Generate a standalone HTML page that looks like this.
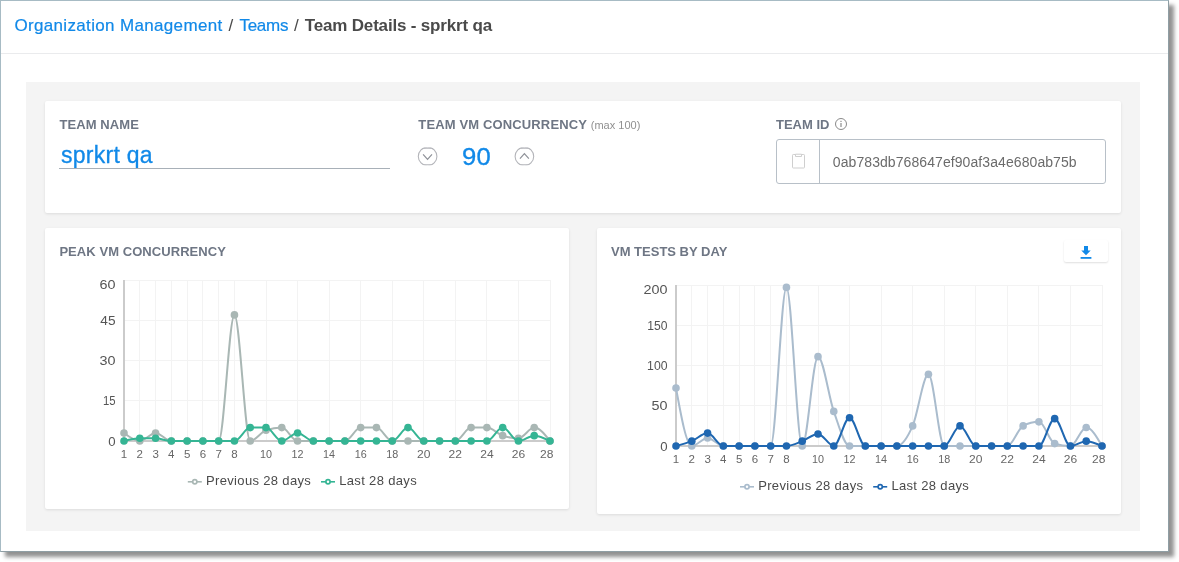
<!DOCTYPE html>
<html lang="en">
<head>
<meta charset="utf-8">
<title>Team Details - sprkrt qa</title>
<style>
*{box-sizing:border-box;margin:0;padding:0}
html,body{width:1179px;height:562px;background:#fff;overflow:hidden}
body{font-family:"Liberation Sans",Arial,sans-serif;color:#444;position:relative}
.frame{position:absolute;left:0;top:0;width:1169px;height:552px;background:#fff;border:1px solid #a7bbc4;border-right-color:#8f9ea4;border-bottom-color:#8f9ea4;box-shadow:5px 5px 4px 0 rgba(0,0,0,.43)}
.crumbs{position:absolute;left:0;top:15px;font-size:17px;line-height:22px;white-space:nowrap;color:#4a4a4a}
.crumbs>*{position:absolute;top:0}
.crumbs a{color:#1189e8;text-decoration:none;-webkit-text-stroke:.2px #1189e8}
.crumbs b{font-weight:bold;color:#4a4a4a}
.hr{position:absolute;left:1px;top:53px;width:1167px;height:1px;background:#eaebed}
.panel{position:absolute;left:26px;top:82px;width:1114px;height:449px;background:#f4f4f4}
.card{position:absolute;background:#fff;border-radius:2px;box-shadow:0 1px 3px rgba(0,0,0,.10)}
#c0{left:45px;top:101px;width:1076px;height:112px}
#c1{left:45px;top:228px;width:524px;height:281px}
#c2{left:597px;top:228px;width:524px;height:286px}
.lbl{position:absolute;font-size:13px;font-weight:bold;color:#6e7684;white-space:nowrap;line-height:16px}
.lbl small{font-weight:normal;font-size:11px;color:#909090}
.name{position:absolute;left:61px;top:141px;font-size:23px;line-height:28px;color:#1189e8;white-space:nowrap;letter-spacing:.27px;-webkit-text-stroke:.3px #1189e8}
.uline{position:absolute;left:59px;top:168px;width:331px;height:1px;background:#a8b0b8}
.num{position:absolute;left:461.6px;top:143px;font-size:23px;line-height:28px;color:#1189e8;letter-spacing:.2px;-webkit-text-stroke:.3px #1189e8;transform:scaleX(1.115);transform-origin:0 0}
.idbox{position:absolute;left:776px;top:139px;width:330px;height:45px;border:1px solid #b8c0c8;border-radius:3px;background:#fff}
.idbox .div{position:absolute;left:42px;top:0;width:1px;height:43px;background:#b8c0c8}
.idbox .txt{position:absolute;left:55.8px;top:13px;font-size:14px;line-height:18px;color:#6b6b6b;white-space:nowrap;letter-spacing:.08px}
svg.abs{position:absolute;overflow:visible}
svg.chart{position:absolute;overflow:visible;font-family:"Liberation Sans",Arial,sans-serif}
svg.chart .yt{font-size:13.2px;fill:#555}
svg.chart .xt{font-size:11.5px;fill:#666}
svg.chart .lg{font-size:13px;fill:#4a4a4a;letter-spacing:.34px}
.dl{position:absolute;left:1064px;top:240px;width:44px;height:22px;background:#fff;border-radius:2px;box-shadow:0 1px 2px rgba(0,0,0,.13)}
</style>
</head>
<body>
<div class="frame"></div>
<div class="crumbs"><a style="left:14.4px;letter-spacing:.34px">Organization Management</a><span style="left:228.4px">/</span><a style="left:239.4px;letter-spacing:-.24px">Teams</a><span style="left:294px">/</span><b style="left:304.8px;letter-spacing:-.18px">Team Details - sprkrt qa</b></div>
<div class="hr"></div>
<div class="panel"></div>

<div class="card" id="c0"></div>
<div class="lbl" style="left:59.5px;top:117px;letter-spacing:.08px">TEAM NAME</div>
<div class="name">sprkrt qa</div>
<div class="uline"></div>

<div class="lbl" style="left:418.3px;top:117px;letter-spacing:.14px">TEAM VM CONCURRENCY</div><div class="lbl" style="left:590.8px;top:117px"><small>(max 100)</small></div>
<svg class="abs" style="left:417px;top:146px" width="21" height="21" viewBox="0 0 21 21"><defs><clipPath id="cp"><rect x="0" y="1.6" width="21" height="17.6"/></clipPath></defs><g clip-path="url(#cp)"><circle cx="10.6" cy="10.4" r="9.3" fill="#fff" stroke="#b4b5ba" stroke-width="1.1"/><path d="M6.6 2.1H14.6M6.6 18.7H14.6" stroke="#b4b5ba" stroke-width="1.1"/></g><path d="M6.1 8.4 L10.55 13.3 L15 8.4" fill="none" stroke="#8e9198" stroke-width="1.2"/></svg>
<div class="num">90</div>
<svg class="abs" style="left:514px;top:146px" width="21" height="21" viewBox="0 0 21 21"><g clip-path="url(#cp)"><circle cx="10.4" cy="10.4" r="9.3" fill="#fff" stroke="#b4b5ba" stroke-width="1.1"/><path d="M6.4 2.1H14.4M6.4 18.7H14.4" stroke="#b4b5ba" stroke-width="1.1"/></g><path d="M5.95 12.6 L10.4 7.7 L14.85 12.6" fill="none" stroke="#8e9198" stroke-width="1.2"/></svg>

<div class="lbl" style="left:776px;top:117px">TEAM ID</div>
<svg class="abs" style="left:833.9px;top:116.9px" width="14" height="14" viewBox="0 0 14 14"><circle cx="7" cy="7" r="5.5" fill="none" stroke="#8a8a8a" stroke-width="1"/><rect x="6.5" y="6" width="1" height="4" fill="#777"/><rect x="6.5" y="3.8" width="1" height="1.2" fill="#777"/></svg>
<div class="idbox"><div class="div"></div>
<svg class="abs" style="left:14px;top:11px" width="16" height="20" viewBox="0 0 16 20"><rect x="1.5" y="3.5" width="12" height="13.5" rx=".8" fill="#fff" stroke="#cfcfcf" stroke-width="1"/><path d="M4.5 5.5v-2.3h6v2.3z" fill="#fff" stroke="#cfcfcf" stroke-width="1"/></svg>
<div class="txt">0ab783db768647ef90af3a4e680ab75b</div></div>

<div class="card" id="c1"></div>
<div class="lbl" style="left:59.4px;top:244px;letter-spacing:.06px">PEAK VM CONCURRENCY</div>
<svg class="chart" width="524" height="280" viewBox="0 0 524 280" style="left:45px;top:228px">
<g stroke="#f3f3f3" stroke-width="1" fill="none"><line x1="79.0" y1="172.5" x2="505.0" y2="172.5"/><line x1="79.0" y1="132.5" x2="505.0" y2="132.5"/><line x1="79.0" y1="92.5" x2="505.0" y2="92.5"/><line x1="79.0" y1="52.5" x2="505.0" y2="52.5"/><line x1="94.5" y1="52.0" x2="94.5" y2="213.0"/><line x1="110.5" y1="52.0" x2="110.5" y2="213.0"/><line x1="126.5" y1="52.0" x2="126.5" y2="213.0"/><line x1="142.5" y1="52.0" x2="142.5" y2="213.0"/><line x1="157.5" y1="52.0" x2="157.5" y2="213.0"/><line x1="173.5" y1="52.0" x2="173.5" y2="213.0"/><line x1="189.5" y1="52.0" x2="189.5" y2="213.0"/><line x1="221.5" y1="52.0" x2="221.5" y2="213.0"/><line x1="252.5" y1="52.0" x2="252.5" y2="213.0"/><line x1="284.5" y1="52.0" x2="284.5" y2="213.0"/><line x1="315.5" y1="52.0" x2="315.5" y2="213.0"/><line x1="347.5" y1="52.0" x2="347.5" y2="213.0"/><line x1="378.5" y1="52.0" x2="378.5" y2="213.0"/><line x1="410.5" y1="52.0" x2="410.5" y2="213.0"/><line x1="441.5" y1="52.0" x2="441.5" y2="213.0"/><line x1="473.5" y1="52.0" x2="473.5" y2="213.0"/><line x1="505.5" y1="52.0" x2="505.5" y2="213.0"/></g>
<line x1="79.0" y1="52.0" x2="79.0" y2="214.0" stroke="#cbcbcb" stroke-width="2"/>
<line x1="79.0" y1="213.0" x2="505.0" y2="213.0" stroke="#cbcbcb" stroke-width="2"/>
<text class="yt" x="70.5" y="217.7" text-anchor="end">0</text>
<text class="yt" x="70.5" y="177.4" text-anchor="end" textLength="12.6" lengthAdjust="spacingAndGlyphs">15</text>
<text class="yt" x="70.5" y="137.2" text-anchor="end" textLength="16.0" lengthAdjust="spacingAndGlyphs">30</text>
<text class="yt" x="70.5" y="97.0" text-anchor="end" textLength="15.2" lengthAdjust="spacingAndGlyphs">45</text>
<text class="yt" x="70.5" y="60.7" text-anchor="end" textLength="16.0" lengthAdjust="spacingAndGlyphs">60</text>
<text class="xt" x="79.0" y="230.0" text-anchor="middle">1</text>
<text class="xt" x="94.8" y="230.0" text-anchor="middle">2</text>
<text class="xt" x="110.6" y="230.0" text-anchor="middle">3</text>
<text class="xt" x="126.3" y="230.0" text-anchor="middle">4</text>
<text class="xt" x="142.1" y="230.0" text-anchor="middle">5</text>
<text class="xt" x="157.9" y="230.0" text-anchor="middle">6</text>
<text class="xt" x="173.7" y="230.0" text-anchor="middle">7</text>
<text class="xt" x="189.4" y="230.0" text-anchor="middle">8</text>
<text class="xt" x="221.0" y="230.0" text-anchor="middle" textLength="12.0" lengthAdjust="spacingAndGlyphs">10</text>
<text class="xt" x="252.6" y="230.0" text-anchor="middle" textLength="12.0" lengthAdjust="spacingAndGlyphs">12</text>
<text class="xt" x="284.1" y="230.0" text-anchor="middle" textLength="12.0" lengthAdjust="spacingAndGlyphs">14</text>
<text class="xt" x="315.7" y="230.0" text-anchor="middle" textLength="12.0" lengthAdjust="spacingAndGlyphs">16</text>
<text class="xt" x="347.2" y="230.0" text-anchor="middle" textLength="12.0" lengthAdjust="spacingAndGlyphs">18</text>
<text class="xt" x="378.8" y="230.0" text-anchor="middle" textLength="13.4" lengthAdjust="spacingAndGlyphs">20</text>
<text class="xt" x="410.3" y="230.0" text-anchor="middle" textLength="13.4" lengthAdjust="spacingAndGlyphs">22</text>
<text class="xt" x="441.9" y="230.0" text-anchor="middle" textLength="13.4" lengthAdjust="spacingAndGlyphs">24</text>
<text class="xt" x="473.4" y="230.0" text-anchor="middle" textLength="13.4" lengthAdjust="spacingAndGlyphs">26</text>
<text class="xt" x="501.7" y="230.0" text-anchor="middle" textLength="13.4" lengthAdjust="spacingAndGlyphs">28</text>
<path d="M79.00,204.95C84.26,208.97,89.52,213.00,94.78,213.00C100.04,213.00,105.30,204.95,110.56,204.95C115.81,204.95,121.07,213.00,126.33,213.00C131.59,213.00,136.85,213.00,142.11,213.00C147.37,213.00,152.63,213.00,157.89,213.00C163.15,213.00,168.41,213.00,173.67,213.00C178.93,213.00,184.19,86.88,189.44,86.88C194.70,86.88,199.96,213.00,205.22,213.00C210.48,213.00,215.74,204.06,221.00,202.27C226.26,200.48,231.52,199.58,236.78,199.58C242.04,199.58,247.30,213.00,252.56,213.00C257.81,213.00,263.07,213.00,268.33,213.00C273.59,213.00,278.85,213.00,284.11,213.00C289.37,213.00,294.63,213.00,299.89,213.00C305.15,213.00,310.41,199.58,315.67,199.58C320.93,199.58,326.19,199.58,331.44,199.58C336.70,199.58,341.96,213.00,347.22,213.00C352.48,213.00,357.74,213.00,363.00,213.00C368.26,213.00,373.52,213.00,378.78,213.00C384.04,213.00,389.30,213.00,394.56,213.00C399.81,213.00,405.07,213.00,410.33,213.00C415.59,213.00,420.85,199.58,426.11,199.58C431.37,199.58,436.63,199.58,441.89,199.58C447.15,199.58,452.41,205.84,457.67,207.63C462.93,209.42,468.19,210.32,473.44,210.32C478.70,210.32,483.96,199.58,489.22,199.58C494.48,199.58,499.74,206.29,505.00,213.00" fill="none" stroke="#a9b7b4" stroke-width="2" stroke-linejoin="round"/>
<g fill="#a9b7b4"><circle cx="79.00" cy="204.95" r="3.8"/><circle cx="94.78" cy="213.00" r="3.8"/><circle cx="110.56" cy="204.95" r="3.8"/><circle cx="126.33" cy="213.00" r="3.8"/><circle cx="142.11" cy="213.00" r="3.8"/><circle cx="157.89" cy="213.00" r="3.8"/><circle cx="173.67" cy="213.00" r="3.8"/><circle cx="189.44" cy="86.88" r="3.8"/><circle cx="205.22" cy="213.00" r="3.8"/><circle cx="221.00" cy="202.27" r="3.8"/><circle cx="236.78" cy="199.58" r="3.8"/><circle cx="252.56" cy="213.00" r="3.8"/><circle cx="268.33" cy="213.00" r="3.8"/><circle cx="284.11" cy="213.00" r="3.8"/><circle cx="299.89" cy="213.00" r="3.8"/><circle cx="315.67" cy="199.58" r="3.8"/><circle cx="331.44" cy="199.58" r="3.8"/><circle cx="347.22" cy="213.00" r="3.8"/><circle cx="363.00" cy="213.00" r="3.8"/><circle cx="378.78" cy="213.00" r="3.8"/><circle cx="394.56" cy="213.00" r="3.8"/><circle cx="410.33" cy="213.00" r="3.8"/><circle cx="426.11" cy="199.58" r="3.8"/><circle cx="441.89" cy="199.58" r="3.8"/><circle cx="457.67" cy="207.63" r="3.8"/><circle cx="473.44" cy="210.32" r="3.8"/><circle cx="489.22" cy="199.58" r="3.8"/><circle cx="505.00" cy="213.00" r="3.8"/></g>
<path d="M79.00,213.00C84.26,211.66,89.52,210.32,94.78,210.32C100.04,210.32,105.30,210.32,110.56,210.32C115.81,210.32,121.07,213.00,126.33,213.00C131.59,213.00,136.85,213.00,142.11,213.00C147.37,213.00,152.63,213.00,157.89,213.00C163.15,213.00,168.41,213.00,173.67,213.00C178.93,213.00,184.19,213.00,189.44,213.00C194.70,213.00,199.96,199.58,205.22,199.58C210.48,199.58,215.74,199.58,221.00,199.58C226.26,199.58,231.52,213.00,236.78,213.00C242.04,213.00,247.30,204.95,252.56,204.95C257.81,204.95,263.07,213.00,268.33,213.00C273.59,213.00,278.85,213.00,284.11,213.00C289.37,213.00,294.63,213.00,299.89,213.00C305.15,213.00,310.41,213.00,315.67,213.00C320.93,213.00,326.19,213.00,331.44,213.00C336.70,213.00,341.96,213.00,347.22,213.00C352.48,213.00,357.74,199.58,363.00,199.58C368.26,199.58,373.52,213.00,378.78,213.00C384.04,213.00,389.30,213.00,394.56,213.00C399.81,213.00,405.07,213.00,410.33,213.00C415.59,213.00,420.85,213.00,426.11,213.00C431.37,213.00,436.63,213.00,441.89,213.00C447.15,213.00,452.41,199.58,457.67,199.58C462.93,199.58,468.19,213.00,473.44,213.00C478.70,213.00,483.96,207.63,489.22,207.63C494.48,207.63,499.74,210.32,505.00,213.00" fill="none" stroke="#35b594" stroke-width="2" stroke-linejoin="round"/>
<g fill="#35b594"><circle cx="79.00" cy="213.00" r="3.8"/><circle cx="94.78" cy="210.32" r="3.8"/><circle cx="110.56" cy="210.32" r="3.8"/><circle cx="126.33" cy="213.00" r="3.8"/><circle cx="142.11" cy="213.00" r="3.8"/><circle cx="157.89" cy="213.00" r="3.8"/><circle cx="173.67" cy="213.00" r="3.8"/><circle cx="189.44" cy="213.00" r="3.8"/><circle cx="205.22" cy="199.58" r="3.8"/><circle cx="221.00" cy="199.58" r="3.8"/><circle cx="236.78" cy="213.00" r="3.8"/><circle cx="252.56" cy="204.95" r="3.8"/><circle cx="268.33" cy="213.00" r="3.8"/><circle cx="284.11" cy="213.00" r="3.8"/><circle cx="299.89" cy="213.00" r="3.8"/><circle cx="315.67" cy="213.00" r="3.8"/><circle cx="331.44" cy="213.00" r="3.8"/><circle cx="347.22" cy="213.00" r="3.8"/><circle cx="363.00" cy="199.58" r="3.8"/><circle cx="378.78" cy="213.00" r="3.8"/><circle cx="394.56" cy="213.00" r="3.8"/><circle cx="410.33" cy="213.00" r="3.8"/><circle cx="426.11" cy="213.00" r="3.8"/><circle cx="441.89" cy="213.00" r="3.8"/><circle cx="457.67" cy="199.58" r="3.8"/><circle cx="473.44" cy="213.00" r="3.8"/><circle cx="489.22" cy="207.63" r="3.8"/><circle cx="505.00" cy="213.00" r="3.8"/></g>
<line x1="142.8" y1="253.8" x2="156.8" y2="253.8" stroke="#a9b7b4" stroke-width="1.6"/>
<circle cx="149.8" cy="253.8" r="2.1" fill="#fff" stroke="#a9b7b4" stroke-width="1.7"/>
<text class="lg" x="161.0" y="257.2">Previous 28 days</text>
<line x1="276.0" y1="253.8" x2="290.0" y2="253.8" stroke="#35b594" stroke-width="1.6"/>
<circle cx="283.0" cy="253.8" r="2.1" fill="#fff" stroke="#35b594" stroke-width="1.7"/>
<text class="lg" x="294.2" y="257.2">Last 28 days</text>
</svg>

<div class="card" id="c2"></div>
<div class="lbl" style="left:611px;top:244px">VM TESTS BY DAY</div>
<div class="dl"><svg class="abs" style="left:15px;top:5px" width="14" height="14" viewBox="0 0 14 14"><path d="M5 1h4v4.6h2.7L7 10.2 2.3 5.6H5z" fill="#1189e8"/><rect x="1.6" y="12" width="10.8" height="1.8" fill="#1189e8"/></svg></div>
<svg class="chart" width="524" height="280" viewBox="0 0 524 280" style="left:597px;top:228px">
<g stroke="#f3f3f3" stroke-width="1" fill="none"><line x1="79.0" y1="177.5" x2="505.0" y2="177.5"/><line x1="79.0" y1="137.5" x2="505.0" y2="137.5"/><line x1="79.0" y1="97.5" x2="505.0" y2="97.5"/><line x1="79.0" y1="57.5" x2="505.0" y2="57.5"/><line x1="94.5" y1="57.0" x2="94.5" y2="218.0"/><line x1="110.5" y1="57.0" x2="110.5" y2="218.0"/><line x1="126.5" y1="57.0" x2="126.5" y2="218.0"/><line x1="142.5" y1="57.0" x2="142.5" y2="218.0"/><line x1="157.5" y1="57.0" x2="157.5" y2="218.0"/><line x1="173.5" y1="57.0" x2="173.5" y2="218.0"/><line x1="189.5" y1="57.0" x2="189.5" y2="218.0"/><line x1="221.5" y1="57.0" x2="221.5" y2="218.0"/><line x1="252.5" y1="57.0" x2="252.5" y2="218.0"/><line x1="284.5" y1="57.0" x2="284.5" y2="218.0"/><line x1="315.5" y1="57.0" x2="315.5" y2="218.0"/><line x1="347.5" y1="57.0" x2="347.5" y2="218.0"/><line x1="378.5" y1="57.0" x2="378.5" y2="218.0"/><line x1="410.5" y1="57.0" x2="410.5" y2="218.0"/><line x1="441.5" y1="57.0" x2="441.5" y2="218.0"/><line x1="473.5" y1="57.0" x2="473.5" y2="218.0"/><line x1="505.5" y1="57.0" x2="505.5" y2="218.0"/></g>
<line x1="79.0" y1="57.0" x2="79.0" y2="219.0" stroke="#cbcbcb" stroke-width="2"/>
<line x1="79.0" y1="218.0" x2="505.0" y2="218.0" stroke="#cbcbcb" stroke-width="2"/>
<text class="yt" x="70.5" y="222.7" text-anchor="end">0</text>
<text class="yt" x="70.5" y="182.4" text-anchor="end" textLength="16.0" lengthAdjust="spacingAndGlyphs">50</text>
<text class="yt" x="70.5" y="142.2" text-anchor="end" textLength="20.4" lengthAdjust="spacingAndGlyphs">100</text>
<text class="yt" x="70.5" y="102.0" text-anchor="end" textLength="20.2" lengthAdjust="spacingAndGlyphs">150</text>
<text class="yt" x="70.5" y="65.7" text-anchor="end" textLength="24.0" lengthAdjust="spacingAndGlyphs">200</text>
<text class="xt" x="79.0" y="235.0" text-anchor="middle">1</text>
<text class="xt" x="94.8" y="235.0" text-anchor="middle">2</text>
<text class="xt" x="110.6" y="235.0" text-anchor="middle">3</text>
<text class="xt" x="126.3" y="235.0" text-anchor="middle">4</text>
<text class="xt" x="142.1" y="235.0" text-anchor="middle">5</text>
<text class="xt" x="157.9" y="235.0" text-anchor="middle">6</text>
<text class="xt" x="173.7" y="235.0" text-anchor="middle">7</text>
<text class="xt" x="189.4" y="235.0" text-anchor="middle">8</text>
<text class="xt" x="221.0" y="235.0" text-anchor="middle" textLength="12.0" lengthAdjust="spacingAndGlyphs">10</text>
<text class="xt" x="252.6" y="235.0" text-anchor="middle" textLength="12.0" lengthAdjust="spacingAndGlyphs">12</text>
<text class="xt" x="284.1" y="235.0" text-anchor="middle" textLength="12.0" lengthAdjust="spacingAndGlyphs">14</text>
<text class="xt" x="315.7" y="235.0" text-anchor="middle" textLength="12.0" lengthAdjust="spacingAndGlyphs">16</text>
<text class="xt" x="347.2" y="235.0" text-anchor="middle" textLength="12.0" lengthAdjust="spacingAndGlyphs">18</text>
<text class="xt" x="378.8" y="235.0" text-anchor="middle" textLength="13.4" lengthAdjust="spacingAndGlyphs">20</text>
<text class="xt" x="410.3" y="235.0" text-anchor="middle" textLength="13.4" lengthAdjust="spacingAndGlyphs">22</text>
<text class="xt" x="441.9" y="235.0" text-anchor="middle" textLength="13.4" lengthAdjust="spacingAndGlyphs">24</text>
<text class="xt" x="473.4" y="235.0" text-anchor="middle" textLength="13.4" lengthAdjust="spacingAndGlyphs">26</text>
<text class="xt" x="501.7" y="235.0" text-anchor="middle" textLength="13.4" lengthAdjust="spacingAndGlyphs">28</text>
<path d="M79.00,160.04C84.26,189.02,89.52,218.00,94.78,218.00C100.04,218.00,105.30,209.95,110.56,209.95C115.81,209.95,121.07,218.00,126.33,218.00C131.59,218.00,136.85,218.00,142.11,218.00C147.37,218.00,152.63,218.00,157.89,218.00C163.15,218.00,168.41,218.00,173.67,218.00C178.93,218.00,184.19,59.41,189.44,59.41C194.70,59.41,199.96,218.00,205.22,218.00C210.48,218.00,215.74,128.64,221.00,128.64C226.26,128.64,231.52,168.49,236.78,183.38C242.04,198.28,247.30,218.00,252.56,218.00C257.81,218.00,263.07,218.00,268.33,218.00C273.59,218.00,278.85,218.00,284.11,218.00C289.37,218.00,294.63,218.00,299.89,218.00C305.15,218.00,310.41,209.82,315.67,197.88C320.93,185.93,326.19,146.36,331.44,146.36C336.70,146.36,341.96,218.00,347.22,218.00C352.48,218.00,357.74,218.00,363.00,218.00C368.26,218.00,373.52,218.00,378.78,218.00C384.04,218.00,389.30,218.00,394.56,218.00C399.81,218.00,405.07,218.00,410.33,218.00C415.59,218.00,420.85,200.56,426.11,197.88C431.37,195.19,436.63,193.85,441.89,193.85C447.15,193.85,452.41,213.98,457.67,215.59C462.93,217.19,468.19,218.00,473.44,218.00C478.70,218.00,483.96,199.49,489.22,199.49C494.48,199.49,499.74,208.74,505.00,218.00" fill="none" stroke="#aabccd" stroke-width="2" stroke-linejoin="round"/>
<g fill="#aabccd"><circle cx="79.00" cy="160.04" r="3.8"/><circle cx="94.78" cy="218.00" r="3.8"/><circle cx="110.56" cy="209.95" r="3.8"/><circle cx="126.33" cy="218.00" r="3.8"/><circle cx="142.11" cy="218.00" r="3.8"/><circle cx="157.89" cy="218.00" r="3.8"/><circle cx="173.67" cy="218.00" r="3.8"/><circle cx="189.44" cy="59.41" r="3.8"/><circle cx="205.22" cy="218.00" r="3.8"/><circle cx="221.00" cy="128.64" r="3.8"/><circle cx="236.78" cy="183.38" r="3.8"/><circle cx="252.56" cy="218.00" r="3.8"/><circle cx="268.33" cy="218.00" r="3.8"/><circle cx="284.11" cy="218.00" r="3.8"/><circle cx="299.89" cy="218.00" r="3.8"/><circle cx="315.67" cy="197.88" r="3.8"/><circle cx="331.44" cy="146.36" r="3.8"/><circle cx="347.22" cy="218.00" r="3.8"/><circle cx="363.00" cy="218.00" r="3.8"/><circle cx="378.78" cy="218.00" r="3.8"/><circle cx="394.56" cy="218.00" r="3.8"/><circle cx="410.33" cy="218.00" r="3.8"/><circle cx="426.11" cy="197.88" r="3.8"/><circle cx="441.89" cy="193.85" r="3.8"/><circle cx="457.67" cy="215.59" r="3.8"/><circle cx="473.44" cy="218.00" r="3.8"/><circle cx="489.22" cy="199.49" r="3.8"/><circle cx="505.00" cy="218.00" r="3.8"/></g>
<path d="M79.00,218.00C84.26,216.66,89.52,215.32,94.78,213.17C100.04,211.02,105.30,205.12,110.56,205.12C115.81,205.12,121.07,218.00,126.33,218.00C131.59,218.00,136.85,218.00,142.11,218.00C147.37,218.00,152.63,218.00,157.89,218.00C163.15,218.00,168.41,218.00,173.67,218.00C178.93,218.00,184.19,218.00,189.44,218.00C194.70,218.00,199.96,215.18,205.22,213.17C210.48,211.16,215.74,205.93,221.00,205.93C226.26,205.93,231.52,218.00,236.78,218.00C242.04,218.00,247.30,189.82,252.56,189.82C257.81,189.82,263.07,218.00,268.33,218.00C273.59,218.00,278.85,218.00,284.11,218.00C289.37,218.00,294.63,218.00,299.89,218.00C305.15,218.00,310.41,218.00,315.67,218.00C320.93,218.00,326.19,218.00,331.44,218.00C336.70,218.00,341.96,218.00,347.22,218.00C352.48,218.00,357.74,197.88,363.00,197.88C368.26,197.88,373.52,218.00,378.78,218.00C384.04,218.00,389.30,218.00,394.56,218.00C399.81,218.00,405.07,218.00,410.33,218.00C415.59,218.00,420.85,218.00,426.11,218.00C431.37,218.00,436.63,218.00,441.89,218.00C447.15,218.00,452.41,190.63,457.67,190.63C462.93,190.63,468.19,218.00,473.44,218.00C478.70,218.00,483.96,213.17,489.22,213.17C494.48,213.17,499.74,215.58,505.00,218.00" fill="none" stroke="#1f67b1" stroke-width="2" stroke-linejoin="round"/>
<g fill="#1f67b1"><circle cx="79.00" cy="218.00" r="3.8"/><circle cx="94.78" cy="213.17" r="3.8"/><circle cx="110.56" cy="205.12" r="3.8"/><circle cx="126.33" cy="218.00" r="3.8"/><circle cx="142.11" cy="218.00" r="3.8"/><circle cx="157.89" cy="218.00" r="3.8"/><circle cx="173.67" cy="218.00" r="3.8"/><circle cx="189.44" cy="218.00" r="3.8"/><circle cx="205.22" cy="213.17" r="3.8"/><circle cx="221.00" cy="205.93" r="3.8"/><circle cx="236.78" cy="218.00" r="3.8"/><circle cx="252.56" cy="189.82" r="3.8"/><circle cx="268.33" cy="218.00" r="3.8"/><circle cx="284.11" cy="218.00" r="3.8"/><circle cx="299.89" cy="218.00" r="3.8"/><circle cx="315.67" cy="218.00" r="3.8"/><circle cx="331.44" cy="218.00" r="3.8"/><circle cx="347.22" cy="218.00" r="3.8"/><circle cx="363.00" cy="197.88" r="3.8"/><circle cx="378.78" cy="218.00" r="3.8"/><circle cx="394.56" cy="218.00" r="3.8"/><circle cx="410.33" cy="218.00" r="3.8"/><circle cx="426.11" cy="218.00" r="3.8"/><circle cx="441.89" cy="218.00" r="3.8"/><circle cx="457.67" cy="190.63" r="3.8"/><circle cx="473.44" cy="218.00" r="3.8"/><circle cx="489.22" cy="213.17" r="3.8"/><circle cx="505.00" cy="218.00" r="3.8"/></g>
<line x1="143.0" y1="258.8" x2="157.0" y2="258.8" stroke="#aabccd" stroke-width="1.6"/>
<circle cx="150.0" cy="258.8" r="2.1" fill="#fff" stroke="#aabccd" stroke-width="1.7"/>
<text class="lg" x="161.2" y="262.2">Previous 28 days</text>
<line x1="276.2" y1="258.8" x2="290.2" y2="258.8" stroke="#1f67b1" stroke-width="1.6"/>
<circle cx="283.2" cy="258.8" r="2.1" fill="#fff" stroke="#1f67b1" stroke-width="1.7"/>
<text class="lg" x="294.4" y="262.2">Last 28 days</text>
</svg>
</body>
</html>
